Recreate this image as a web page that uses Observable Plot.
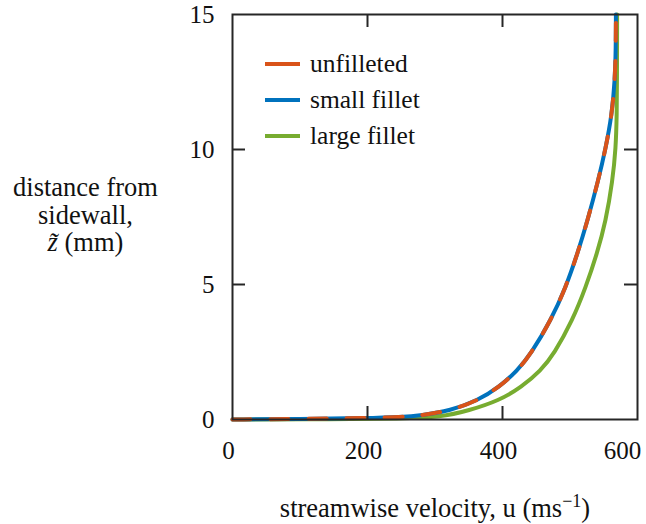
<!DOCTYPE html>
<html>
<head>
<meta charset="utf-8">
<script src="https://cdn.jsdelivr.net/npm/d3@7"></script>
<script src="https://cdn.jsdelivr.net/npm/@observablehq/plot@0.6"></script>
<style>
  html, body { margin: 0; padding: 0; background: #fff; }
</style>
</head>
<body>
<div id="chart"></div>
<script>
// ---- data ----
const seriesNames = ["unfilleted", "small fillet", "large fillet"];
const seriesColors = ["#D95319", "#0072BD", "#77AC30"];

// streamwise velocity u (m/s) and distance from sidewall z (mm)
const uUnfilleted = [0, 100, 200, 250, 279, 323, 363, 395, 422, 442, 471.6, 493.8, 511, 526, 541.6, 553, 562, 566.4, 567.9, 568];
const zUnfilleted = [0, 0.02, 0.05, 0.09, 0.15, 0.33, 0.70, 1.20, 1.81, 2.43, 3.67, 4.90, 6.14, 7.37, 8.83, 10.06, 11.30, 12.53, 13.77, 15];

const uSmall = [0, 100, 200, 250, 279, 323, 363, 395, 422, 442, 471.6, 493.8, 511, 526, 541.6, 553, 562, 566.4, 567.9, 568];
const zSmall = [0, 0.02, 0.05, 0.09, 0.15, 0.33, 0.70, 1.20, 1.81, 2.43, 3.67, 4.90, 6.14, 7.37, 8.83, 10.06, 11.30, 12.53, 13.77, 15];

const uLarge = [0, 150, 250, 308.6, 350, 395, 428, 456.7, 476.4, 503.7, 523.4, 540, 553, 563, 567.9, 569.3, 569.6, 569.8];
const zLarge = [0, 0.01, 0.03, 0.085, 0.33, 0.70, 1.20, 1.81, 2.43, 3.67, 4.90, 6.14, 7.34, 8.83, 10.06, 11.30, 12.5, 15];

const xTickValues = [0, 200, 400, 600];
const yTickValues = [0, 5, 10, 15];
const xInnerTicks = [200, 400];
const yInnerTicks = [5, 10];

const xLabel = "streamwise velocity, u (ms\u22121)";
const yLabel = "distance from\nsidewall,\nz\u0303 (mm)";

const toRows = (us, zs) => us.map((u, i) => ({u, z: zs[i]}));
const unfil = toRows(uUnfilleted, zUnfilleted);
const small = toRows(uSmall, zSmall);
const large = toRows(uLarge, zLarge);

const frameColor = "#262626";
const tickLen = 13;
const W = 646, H = 524;
const mTop = 14, mRight = 9, mBottom = 105, mLeft = 232;
const fw = W - mLeft - mRight, fh = H - mTop - mBottom;
const serif = "'Liberation Serif', 'Times New Roman', serif";

const chart = Plot.plot({
  width: W,
  height: H,
  marginTop: mTop,
  marginRight: mRight,
  marginBottom: mBottom,
  marginLeft: mLeft,
  style: {fontFamily: serif, fontSize: "25px", color: "#111", background: "#fff"},
  x: {domain: [0, 600]},
  y: {domain: [0, 15]},
  marks: [
    Plot.line(large, {x: "u", y: "z", stroke: seriesColors[2], strokeWidth: 4, curve: "basis"}),
    Plot.line(small, {x: "u", y: "z", stroke: seriesColors[1], strokeWidth: 4, curve: "basis"}),
    Plot.line(unfil, {x: "u", y: "z", stroke: seriesColors[0], strokeWidth: 4, curve: "basis", strokeDasharray: "18,20"}),
    // inward ticks
    Plot.tickX(xInnerTicks, {x: d => d, stroke: frameColor, strokeWidth: 2, insetTop: fh - tickLen}),
    Plot.tickX(xInnerTicks, {x: d => d, stroke: frameColor, strokeWidth: 2, insetBottom: fh - tickLen}),
    Plot.tickY(yInnerTicks, {y: d => d, stroke: frameColor, strokeWidth: 2, insetRight: fw - tickLen}),
    Plot.tickY(yInnerTicks, {y: d => d, stroke: frameColor, strokeWidth: 2, insetLeft: fw - tickLen}),
    Plot.frame({stroke: frameColor, strokeWidth: 2}),
    // tick labels
    Plot.axisX(xTickValues.slice(0, 3), {tickSize: 0, tickPadding: 22, label: null, dx: -4, fill: "#111"}),
    Plot.axisX(xTickValues.slice(3), {tickSize: 0, tickPadding: 22, label: null, dx: -15, fill: "#111"}),
    Plot.axisY(yTickValues, {tickSize: 0, tickPadding: 18, label: null, fill: "#111"}),
    // axis titles
    Plot.text([yLabel], {text: d => d, frameAnchor: "left", dx: -147, dy: -2, textAnchor: "middle", lineHeight: 1.04, fontSize: 26.5, fill: "#111"}),
    Plot.text([xLabel], {text: d => d, frameAnchor: "bottom", dy: 89, textAnchor: "middle", lineAnchor: "middle", fontSize: 26.5, fill: "#111"})
  ]
});

document.getElementById("chart").appendChild(chart);

const svg = d3.select(chart);

// italic z-tilde in the y label, superscript in the x label
svg.selectAll("text").each(function() {
  const t = d3.select(this);
  const tspans = t.selectAll("tspan");
  if (!tspans.empty()) {
    tspans.each(function() {
      const ts = d3.select(this);
      const s = ts.text();
      if (s.startsWith("z\u0303")) {
        ts.text("");
        ts.append("tspan").attr("font-style", "italic").text("z\u0303");
        ts.append("tspan").text(s.slice(2));
      }
    });
  }
  const s = t.text();
  if (s === xLabel) {
    t.text("");
    t.append("tspan").text("streamwise velocity, u (ms");
    t.append("tspan").attr("font-size", "18px").attr("dy", "-0.55em").text("\u22121");
    t.append("tspan").attr("dy", "0.375em").text(")");
  }
});

// legend (styling overlay inside the frame)
const leg = svg.append("g").attr("font-family", serif).attr("font-size", 25.5).attr("text-anchor", "start");
const legX0 = 265, legX1 = 300, legY0 = 64, legStep = 36;
seriesNames.forEach((name, i) => {
  const y = legY0 + i * legStep;
  leg.append("line").attr("x1", legX0).attr("x2", legX1).attr("y1", y).attr("y2", y)
    .attr("stroke", seriesColors[i]).attr("stroke-width", 4);
  leg.append("text").attr("x", legX1 + 10).attr("y", y).attr("dy", "0.32em").attr("fill", "#111").text(name);
});
</script>
</body>
</html>
